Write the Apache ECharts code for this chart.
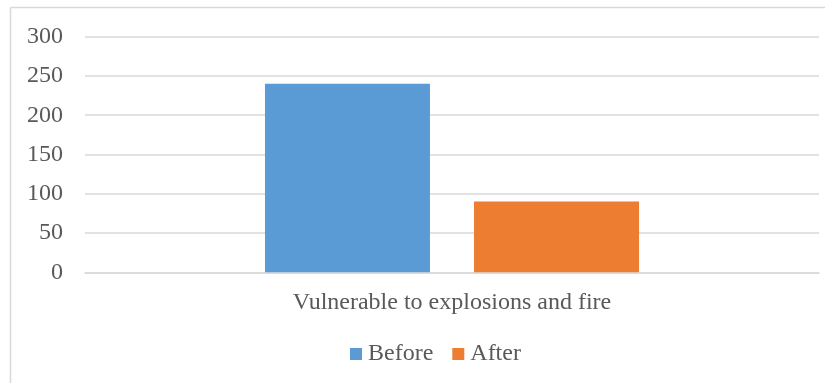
<!DOCTYPE html>
<html>
<head>
<meta charset="utf-8">
<script src="https://cdn.jsdelivr.net/npm/echarts@6/dist/echarts.min.js"></script>
<style>
  html, body { margin: 0; padding: 0; background: #fff; }
  #chart { width: 835px; height: 383px; }
</style>
</head>
<body>
<div id="chart"></div>
<script>
// Chart data
const categories = ['Vulnerable to explosions and fire'];
const seriesNames = ['Before', 'After'];
const beforeValues = [240];
const afterValues = [90];
const yTicks = { min: 0, max: 300, interval: 50 };

const textColor = '#595959';
const fontFamily = '"Liberation Serif", "Times New Roman", serif';

const chart = echarts.init(document.getElementById('chart'));
chart.setOption({
  animation: false,
  backgroundColor: '#fff',
  textStyle: { fontFamily: fontFamily, color: textColor },
  graphic: [
    { type: 'line', shape: { x1: 10.5, y1: 7.5, x2: 825, y2: 7.5 },
      style: { stroke: '#d9d9d9', lineWidth: 1.5 }, silent: true },
    { type: 'line', shape: { x1: 10.5, y1: 7.5, x2: 10.5, y2: 383 },
      style: { stroke: '#d9d9d9', lineWidth: 1.5 }, silent: true }
  ],
  grid: { left: 85, right: 16, top: 36.7, bottom: 110.7, containLabel: false },
  legend: {
    data: seriesNames,
    top: 337,
    left: 345,
    itemWidth: 12,
    itemHeight: 12,
    itemGap: 19,
    icon: 'rect',
    textStyle: { fontFamily: fontFamily, color: textColor, fontSize: 24, padding: [0, 0, 0, 1] }
  },
  xAxis: {
    type: 'category',
    data: categories,
    axisLine: { show: true, lineStyle: { color: '#d9d9d9', width: 1.5 } },
    axisTick: { show: false },
    axisLabel: { color: textColor, fontFamily: fontFamily, fontSize: 24, margin: 18 }
  },
  yAxis: {
    type: 'value',
    min: yTicks.min,
    max: yTicks.max,
    interval: yTicks.interval,
    axisLine: { show: false },
    axisTick: { show: false },
    splitLine: { lineStyle: { color: '#d9d9d9', width: 1.5 } },
    axisLabel: { color: textColor, fontFamily: fontFamily, fontSize: 24, margin: 22 }
  },
  series: [
    { name: seriesNames[0], type: 'bar', data: beforeValues, barWidth: 165, barGap: '26.7%',
      itemStyle: { color: '#5b9bd5' } },
    { name: seriesNames[1], type: 'bar', data: afterValues, barWidth: 165,
      itemStyle: { color: '#ed7d31' } }
  ]
});
</script>
</body>
</html>
